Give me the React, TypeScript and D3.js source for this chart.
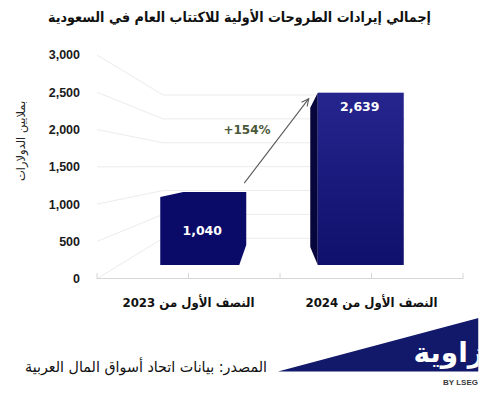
import React from "react";
import * as d3 from "d3";

const title = "إجمالي إيرادات الطروحات الأولية للاكتتاب العام في السعودية";
const categories = ["النصف الأول من 2023", "النصف الأول من 2024"];
const values = [1040, 2639];
const valueLabels = ["1,040", "2,639"];
const yTicks = [0, 500, 1000, 1500, 2000, 2500, 3000];
const yTitle = "بملايين الدولارات";
const growthLabel = "+154%";
const source = "المصدر: بيانات اتحاد أسواق المال العربية";
const logoText = "زاوية";
const logoSub = "BY LSEG";

const W = 492;
const H = 394;

export default function App() {
  const yFront = d3.scaleLinear().domain([0, 3000]).range([278.7, 55]);
  const yBack = d3.scaleLinear().domain([0, 3000]).range([238.3, 95]);
  const yBar = d3.scaleLinear().domain([0, 3000]).range([265, 69.1]);
  const xFloor = d3.scaleLinear().domain([0, 4]).range([97, 463]);
  const xBar = d3.scaleBand<string>().domain(categories).range([124.5, 439.5]);
  const xCat = (i: number) => xFloor(1 + 2 * i);
  const fmt = d3.format(",");
  const arabic = "'DejaVu Sans', 'Noto Sans', sans-serif";
  const latin = "'Liberation Sans', Arial, sans-serif";

  const sideX0 = 97;
  const sideX1 = 163;
  const backX1 = 405;
  const halfW = 43;

  return (
    <svg width={W} height={H} style={{ display: "block", position: "absolute", left: 0, top: 0 }}>
      <defs>
        <linearGradient id="bar2g" x1="0" y1="0" x2="0" y2="1">
          <stop offset="0" stopColor="#25258e" />
          <stop offset="1" stopColor="#0f0f6c" />
        </linearGradient>
        <clipPath id="logoClip">
          <rect x={0} y={0} width={478.5} height={H} />
        </clipPath>
      </defs>
      <rect width={W} height={H} fill="#fff" />

      {/* Title */}
      <text x={239.5} y={22} textAnchor="middle" fontFamily={arabic} fontWeight="bold" fontSize={14} fill="#111" direction="rtl" textLength={383} lengthAdjust="spacingAndGlyphs">
        {title}
      </text>

      {/* side wall gridlines */}
      {yTicks.map((t) => (
        <line key={"s" + t} x1={sideX0} y1={yFront(t)} x2={sideX1} y2={yBack(t)} stroke="#ececec" strokeWidth={1} />
      ))}
      {/* back wall gridlines */}
      {yTicks.map((t) => (
        <line key={"b" + t} x1={sideX1} y1={yBack(t)} x2={backX1} y2={yBack(t)} stroke="#ececec" strokeWidth={1} />
      ))}

      {/* floor front line and ticks */}
      <line x1={xFloor(0)} y1={278.5} x2={xFloor(4)} y2={278.5} stroke="#d6d6d6" strokeWidth={1.2} />
      {d3.range(5).map((i) => (
        <line key={"t" + i} x1={xFloor(i)} y1={273} x2={xFloor(i)} y2={279} stroke="#d6d6d6" strokeWidth={1} />
      ))}

      {/* y tick labels */}
      {yTicks.map((t) => (
        <text key={"l" + t} x={80} y={yFront(t)} dy="0.35em" textAnchor="end" fontFamily={latin} fontWeight="bold" fontSize={12.5} fill="#1a1a1a">
          {fmt(t)}
        </text>
      ))}

      {/* y title */}
      <text transform="translate(21,141) rotate(-90)" textAnchor="middle" dy="0.35em" fontFamily={arabic} fontSize={11.5} fill="#222" direction="rtl">
        {yTitle}
      </text>

      {/* bars */}
      {values.map((v, i) => {
        const c = (xBar(categories[i]) as number) + xBar.bandwidth() / 2;
        const x0 = c - halfW;
        const x1 = c + halfW;
        const yT = yBar(v);
        const yB = yBar(0);
        if (i === 0) {
          const pts = [
            [x0, yT],
            [x0 + 23, yT - 5],
            [x1, yT - 5],
            [x1, yB - 20],
            [x1 - 7, yB],
            [x0, yB],
          ];
          return (
            <g key={"bar" + i}>
              <polygon points={pts.map((p) => p.join(",")).join(" ")} fill="#0a0a69" />
            </g>
          );
        }
        const side = [
          [x0 - 7.5, yT + 15],
          [x0, yT],
          [x0, yB],
          [x0 - 7.5, yB - 18],
        ];
        return (
          <g key={"bar" + i}>
            <polygon points={side.map((p) => p.join(",")).join(" ")} fill="#06063c" />
            <rect x={x0} y={yT} width={x1 - x0} height={yB - yT} fill="url(#bar2g)" />
          </g>
        );
      })}

      {/* value labels */}
      {values.map((v, i) => {
        const c = (xBar(categories[i]) as number) + xBar.bandwidth() / 2;
        const y = i === 0 ? (yBar(v) + yBar(0)) / 2 : yBar(v) + 14;
        return (
          <text key={"v" + i} x={c - 1} y={y} dy="0.35em" textAnchor="middle" fontFamily="'DejaVu Sans', sans-serif" fontWeight="bold" fontSize={12.5} fill="#ffffff">
            {valueLabels[i]}
          </text>
        );
      })}

      {/* growth arrow */}
      {(() => {
        const xa = xBar(categories[0]) as number;
        const xb = xBar(categories[1]) as number;
        const sx = xa + xBar.bandwidth() / 2 + 41;
        const sy = yBar(values[0]) - 14;
        const ex = xb + xBar.bandwidth() / 2 - 52;
        const ey = yBar(values[1]) + 6;
        const ang = Math.atan2(ey - sy, ex - sx);
        const L = 8;
        const a1 = ang + Math.PI - 0.45;
        const a2 = ang + Math.PI + 0.45;
        return (
          <g stroke="#5a5a5a" strokeWidth={1.1} fill="none">
            <line x1={sx} y1={sy} x2={ex} y2={ey} />
            <polyline points={`${ex + L * Math.cos(a1)},${ey + L * Math.sin(a1)} ${ex},${ey} ${ex + L * Math.cos(a2)},${ey + L * Math.sin(a2)}`} />
          </g>
        );
      })()}
      <text x={247} y={130} dy="0.35em" textAnchor="middle" fontFamily="'DejaVu Sans', sans-serif" fontWeight="bold" fontSize={12} fill="#4a5838">
        {growthLabel}
      </text>

      {/* category labels */}
      {categories.map((c, i) => (
        <text key={"c" + i} x={xCat(i)} y={302} dy="0.35em" textAnchor="middle" fontFamily={arabic} fontWeight="bold" fontSize={13} fill="#111" direction="rtl" textLength={132} lengthAdjust="spacingAndGlyphs">
          {c}
        </text>
      ))}

      {/* source */}
      <text x={146} y={367} dy="0.35em" textAnchor="middle" fontFamily={arabic} fontSize={15} fill="#111" direction="rtl" textLength={242} lengthAdjust="spacingAndGlyphs">
        {source}
      </text>

      {/* logo */}
      <g clipPath="url(#logoClip)">
        <polygon points="278,371.5 478.5,318 478.5,371.5" fill="#12186a" />
        <text x={484} y={362} textAnchor="start" fontFamily={arabic} fontWeight="bold" fontSize={28} fill="#ffffff" direction="rtl">
          {logoText}
        </text>
      </g>
      <text x={478} y={385} textAnchor="end" fontFamily={latin} fontWeight="bold" fontSize={8} fill="#3a3a3a">
        {logoSub}
      </text>
    </svg>
  );
}
